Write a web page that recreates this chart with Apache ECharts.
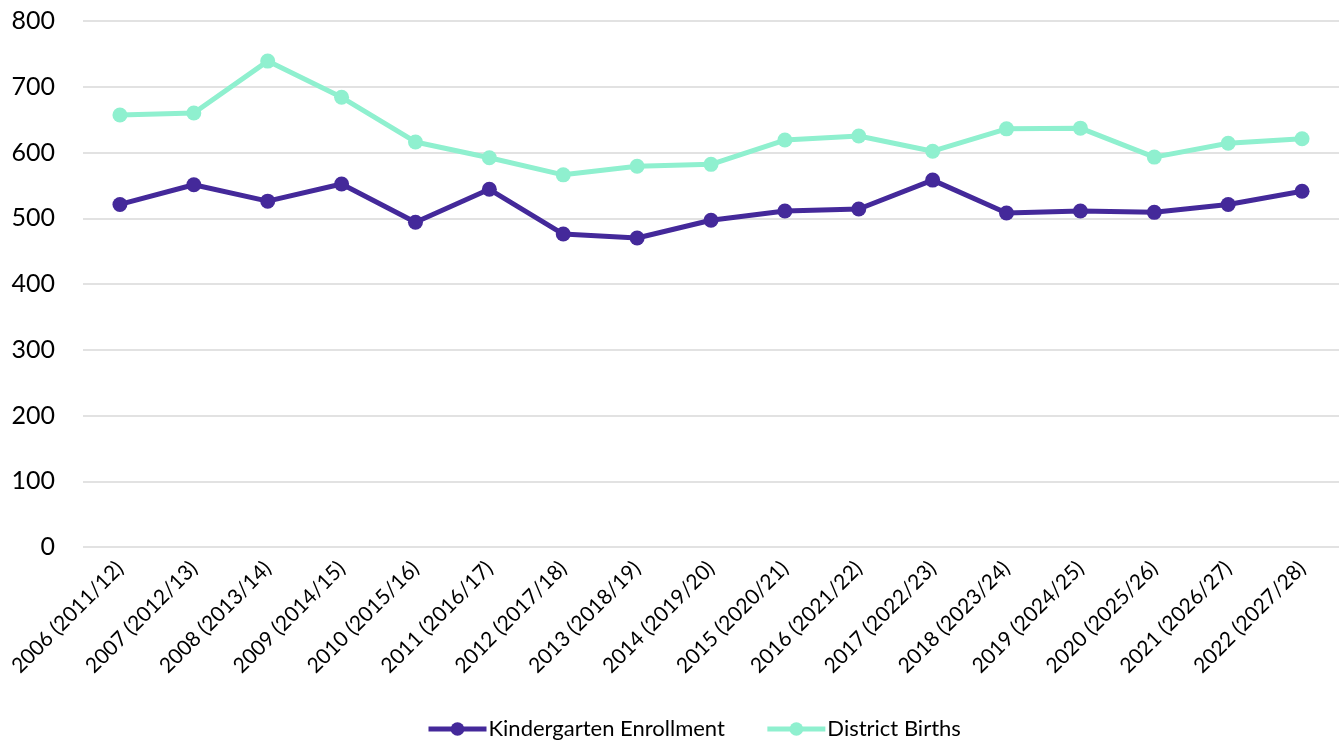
<!DOCTYPE html>
<html><head><meta charset="utf-8">
<script src="https://cdn.jsdelivr.net/npm/echarts@6/dist/echarts.min.js"></script>
<style>html,body{margin:0;padding:0;background:#fff}#c{width:1339px;height:741px}</style>
</head><body><div id="c"></div>
<script>
const categories = ["2006 (2011/12)","2007 (2012/13)","2008 (2013/14)","2009 (2014/15)","2010 (2015/16)","2011 (2016/17)","2012 (2017/18)","2013 (2018/19)","2014 (2019/20)","2015 (2020/21)","2016 (2021/22)","2017 (2022/23)","2018 (2023/24)","2019 (2024/25)","2020 (2025/26)","2021 (2026/27)","2022 (2027/28)"];
const kindergarten = [521,551,526,552,494,544,476,470,497,511,514,558,508,511,509,521,541];
const births = [657,660,739,684,616,592,566,579,582,619,625,602,636,637,593,614,621];
const yTicks = [0,100,200,300,400,500,600,700,800];

const font = "Lato, 'Open Sans', sans-serif";
const purple = '#44299a', teal = '#8ff0cf';
const chart = echarts.init(document.getElementById('c'));
chart.setOption({
  animation:false,
  grid:{left:83, top:21, width:1272, bottom:194, containLabel:false},
  legend:{
    top:713, left:421, itemWidth:58, itemHeight:17, itemGap:40,
    textStyle:{fontFamily:font, fontSize:22, color:'#000', padding:[0,0,0,-3]},
    data:[
      {name:'Kindergarten Enrollment', itemStyle:{color:purple}, lineStyle:{width:5, color:purple}},
      {name:'District Births', itemStyle:{color:teal}, lineStyle:{width:5, color:teal}}
    ]
  },
  xAxis:{
    type:'category', data:categories, boundaryGap:true,
    axisLine:{show:false}, axisTick:{show:false},
    axisLabel:{rotate:45, fontFamily:font, fontSize:21, color:'#000', margin:18, interval:0}
  },
  yAxis:{
    type:'value', min:0, max:800, interval:100,
    axisLine:{show:false}, axisTick:{show:false},
    splitLine:{lineStyle:{color:'#d9d9d9', width:1.5}},
    axisLabel:{fontFamily:font, fontSize:25, color:'#000', margin:28}
  },
  series:[
    {name:'Kindergarten Enrollment', type:'line', data:kindergarten, symbol:'circle', symbolSize:15,
     lineStyle:{width:5, color:purple}, itemStyle:{color:purple}},
    {name:'District Births', type:'line', data:births, symbol:'circle', symbolSize:15,
     lineStyle:{width:5, color:teal}, itemStyle:{color:teal}}
  ]
});
</script></body></html>
